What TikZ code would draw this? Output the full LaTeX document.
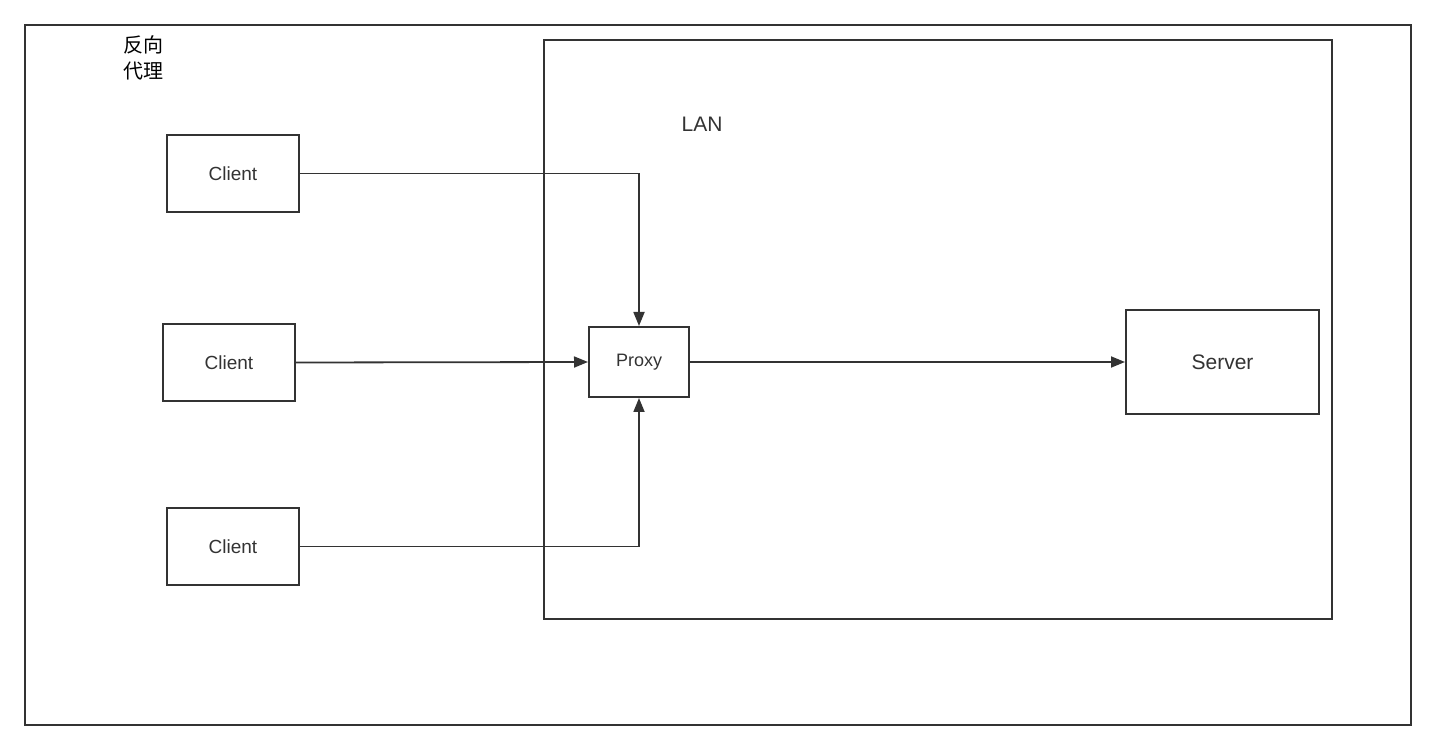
\documentclass[tikz,border=0pt]{standalone}
\usepackage{fontspec}
\setmainfont{Liberation Sans}
\newfontfamily\cjk{Noto Sans CJK SC}
\usetikzlibrary{arrows.meta}
\definecolor{ink}{HTML}{333333}
\begin{document}
\begin{tikzpicture}[x=1pt,y=-1pt,
  box/.style={draw=ink,line width=2pt,inner sep=0pt},
  conn/.style={draw=ink,line width=1.8pt,-{Triangle[length=14pt,width=11pt]}},
  frame/.style={draw=ink,line width=2pt}]
\useasboundingbox (0,0) rectangle (1436,751);
\draw[frame] (25,25) rectangle (1411,725);
\draw[frame] (544,40) rectangle (1332,619);
\node[anchor=west,font=\cjk\fontsize{20}{26}\selectfont,align=left,text=black] (title) at (120,58) {反向\\代理};
\node[font=\fontsize{21}{25}\selectfont,text=ink] (lan) at (702,124) {LAN};
\node[box,minimum width=132pt,minimum height=77pt,font=\fontsize{19}{22}\selectfont,text=ink] (c1) at (233,173.5) {Client};
\node[box,minimum width=132pt,minimum height=77pt,font=\fontsize{19}{22}\selectfont,text=ink] (c2) at (229,362.5) {Client};
\node[box,minimum width=132pt,minimum height=77pt,font=\fontsize{19}{22}\selectfont,text=ink] (c3) at (233,546.5) {Client};
\node[box,minimum width=100pt,minimum height=70pt,font=\fontsize{18}{21}\selectfont,text=ink] (proxy) at (639,362) {Proxy};
\node[box,minimum width=193pt,minimum height=104pt,font=\fontsize{21}{24}\selectfont,text=ink] (server) at (1222.5,362) {Server};
\draw[conn] (c1.east) -| (proxy.north);
\draw[conn] (c2.east) -- (proxy.west);
\draw[conn] (c3.east) -| (proxy.south);
\draw[conn] (proxy.east) -- (server.west);
\end{tikzpicture}
\end{document}
